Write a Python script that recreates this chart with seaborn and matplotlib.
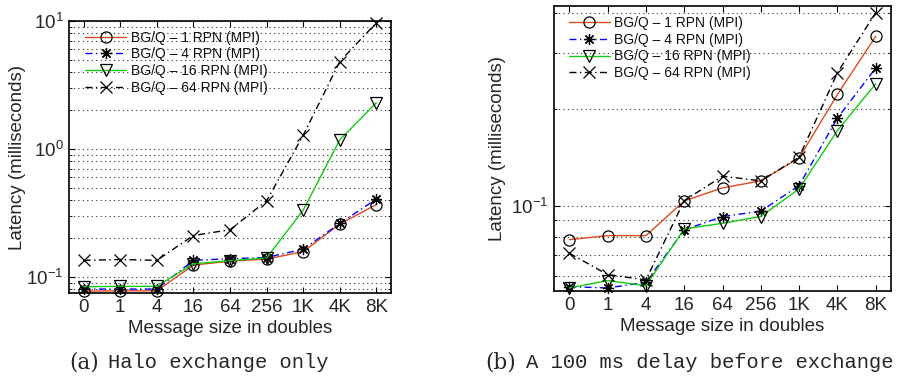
import numpy as np
import pandas as pd
import matplotlib
matplotlib.use("Agg")
import matplotlib.pyplot as plt
from matplotlib.ticker import LogLocator, NullFormatter, LogFormatterSciNotation, FixedLocator
import seaborn as sns

# Message sizes (in doubles) on the categorical x axis
sizes = ["0", "1", "4", "16", "64", "256", "1K", "4K", "8K"]
series_names = ["BG/Q \u2013 1 RPN (MPI)", "BG/Q \u2013 4 RPN (MPI)",
                "BG/Q \u2013 16 RPN (MPI)", "BG/Q \u2013 64 RPN (MPI)"]

# (a) halo exchange only, latency in ms
halo_1rpn = [0.0775, 0.078, 0.078, 0.124, 0.133, 0.138, 0.158, 0.259, 0.368]
halo_4rpn = [0.0805, 0.0805, 0.0805, 0.135, 0.139, 0.142, 0.165, 0.262, 0.407]
halo_16rpn = [0.084, 0.0845, 0.0845, 0.127, 0.134, 0.141, 0.333, 1.18, 2.30]
halo_64rpn = [0.135, 0.137, 0.135, 0.211, 0.234, 0.394, 1.28, 4.82, 9.7]

# (b) 100 ms delay before exchange, latency in ms
delay_1rpn = [0.0782, 0.0805, 0.0805, 0.1034, 0.1136, 0.1195, 0.141, 0.2228, 0.3388]
delay_4rpn = [0.0557, 0.0552, 0.0575, 0.0839, 0.0924, 0.0960, 0.1155, 0.188, 0.2695]
delay_16rpn = [0.0552, 0.0582, 0.0561, 0.0845, 0.088, 0.0924, 0.1128, 0.1718, 0.2405]
delay_64rpn = [0.0709, 0.0608, 0.0585, 0.1036, 0.1236, 0.1195, 0.1417, 0.2606, 0.4018]

sns.set_theme(style="white")
plt.rcParams["font.family"] = ["Liberation Sans", "DejaVu Sans"]
plt.rcParams["mathtext.fontset"] = "custom"
plt.rcParams["mathtext.rm"] = "Liberation Sans"
plt.rcParams["mathtext.it"] = "Liberation Sans:italic"
plt.rcParams["mathtext.default"] = "regular"

styles = [
    dict(color="#DD4A1E", marker="o", linestyle="-"),
    dict(color="#0000FF", marker=(8, 2, 0), linestyle=(0, (5, 2.5, 1, 2.5))),
    dict(color="#11CC11", marker="v", linestyle="-"),
    dict(color="black", marker="x", linestyle=(0, (5, 2.5, 1, 2.5))),
]

fig = plt.figure(figsize=(9.07, 3.77), dpi=100)
ax_a = fig.add_axes([0.0761, 0.2228, 0.3550, 0.7215])
ax_b = fig.add_axes([0.6108, 0.2281, 0.3716, 0.7560])

pos = np.arange(len(sizes))


def draw(ax, data, ylim, label_x, leg_anchor):
    for name, vals, st in zip(series_names, data, styles):
        df = pd.DataFrame({"pos": pos, "latency": vals})
        sns.lineplot(data=df, x="pos", y="latency", ax=ax, label=name,
                     color=st["color"], linestyle=st["linestyle"], marker=st["marker"],
                     markersize=8, markerfacecolor="none", markeredgecolor="black",
                     markeredgewidth=0.9, linewidth=1.0, clip_on=False)
    ax.set_yscale("log")
    ax.set_ylim(*ylim)
    ax.set_xlim(-0.4, 8.4)
    ax.xaxis.set_major_locator(FixedLocator(pos))
    ax.set_xticklabels(sizes)
    ax.yaxis.set_major_locator(LogLocator(base=10, numticks=20))
    ax.yaxis.set_minor_locator(LogLocator(base=10, subs=np.arange(2, 10), numticks=50))
    ax.yaxis.set_major_formatter(LogFormatterSciNotation())
    ax.yaxis.set_minor_formatter(NullFormatter())
    ax.grid(True, which="both", axis="y", color="#333333", linestyle=(0, (1, 3)),
            linewidth=0.8)
    ax.tick_params(which="both", direction="in", top=True, right=True,
                   bottom=True, left=True, color="black", labelsize=13.5, pad=4)
    ax.tick_params(which="major", length=4, width=0.8)
    ax.tick_params(which="minor", length=2.5, width=0.6)
    for s in ax.spines.values():
        s.set_visible(True)
        s.set_color("black")
        s.set_linewidth(1.2)
    ax.set_xlabel("Message size in doubles", fontsize=13.5, labelpad=3)
    ax.set_ylabel("Latency (milliseconds)", fontsize=13.5)
    ax.yaxis.set_label_coords(label_x, 0.5)
    leg = ax.legend(loc="upper left", bbox_to_anchor=leg_anchor, frameon=False,
                    fontsize=10, handlelength=3.0, handletextpad=0.3,
                    labelspacing=0.2, borderaxespad=0, borderpad=0.2, numpoints=1)
    for t in leg.get_texts():
        t.set_color("#111111")
    ax.set_facecolor("white")


draw(ax_a, [halo_1rpn, halo_4rpn, halo_16rpn, halo_64rpn], (0.075, 10.0), -0.135,
     (0.04, 0.975))
draw(ax_b, [delay_1rpn, delay_4rpn, delay_16rpn, delay_64rpn], (0.054, 0.4217), -0.143,
     (0.035, 0.975))

# Sub-figure captions: serif tag followed by typewriter text
cap_y = 1 - 363 / 377
fig.text(99 / 907, cap_y, "(a)", family="DejaVu Serif", fontsize=15.5,
         ha="right", va="center")
fig.text(108 / 907, cap_y, "Halo exchange only", family="Liberation Mono",
         fontsize=14.8, ha="left", va="center")
fig.text(516 / 907, cap_y, "(b)", family="DejaVu Serif", fontsize=15.5,
         ha="right", va="center")
fig.text(526 / 907, cap_y, "A 100 ms delay before exchange", family="Liberation Mono",
         fontsize=14.8, ha="left", va="center")

fig.savefig("out.png", dpi=100, facecolor="white")
